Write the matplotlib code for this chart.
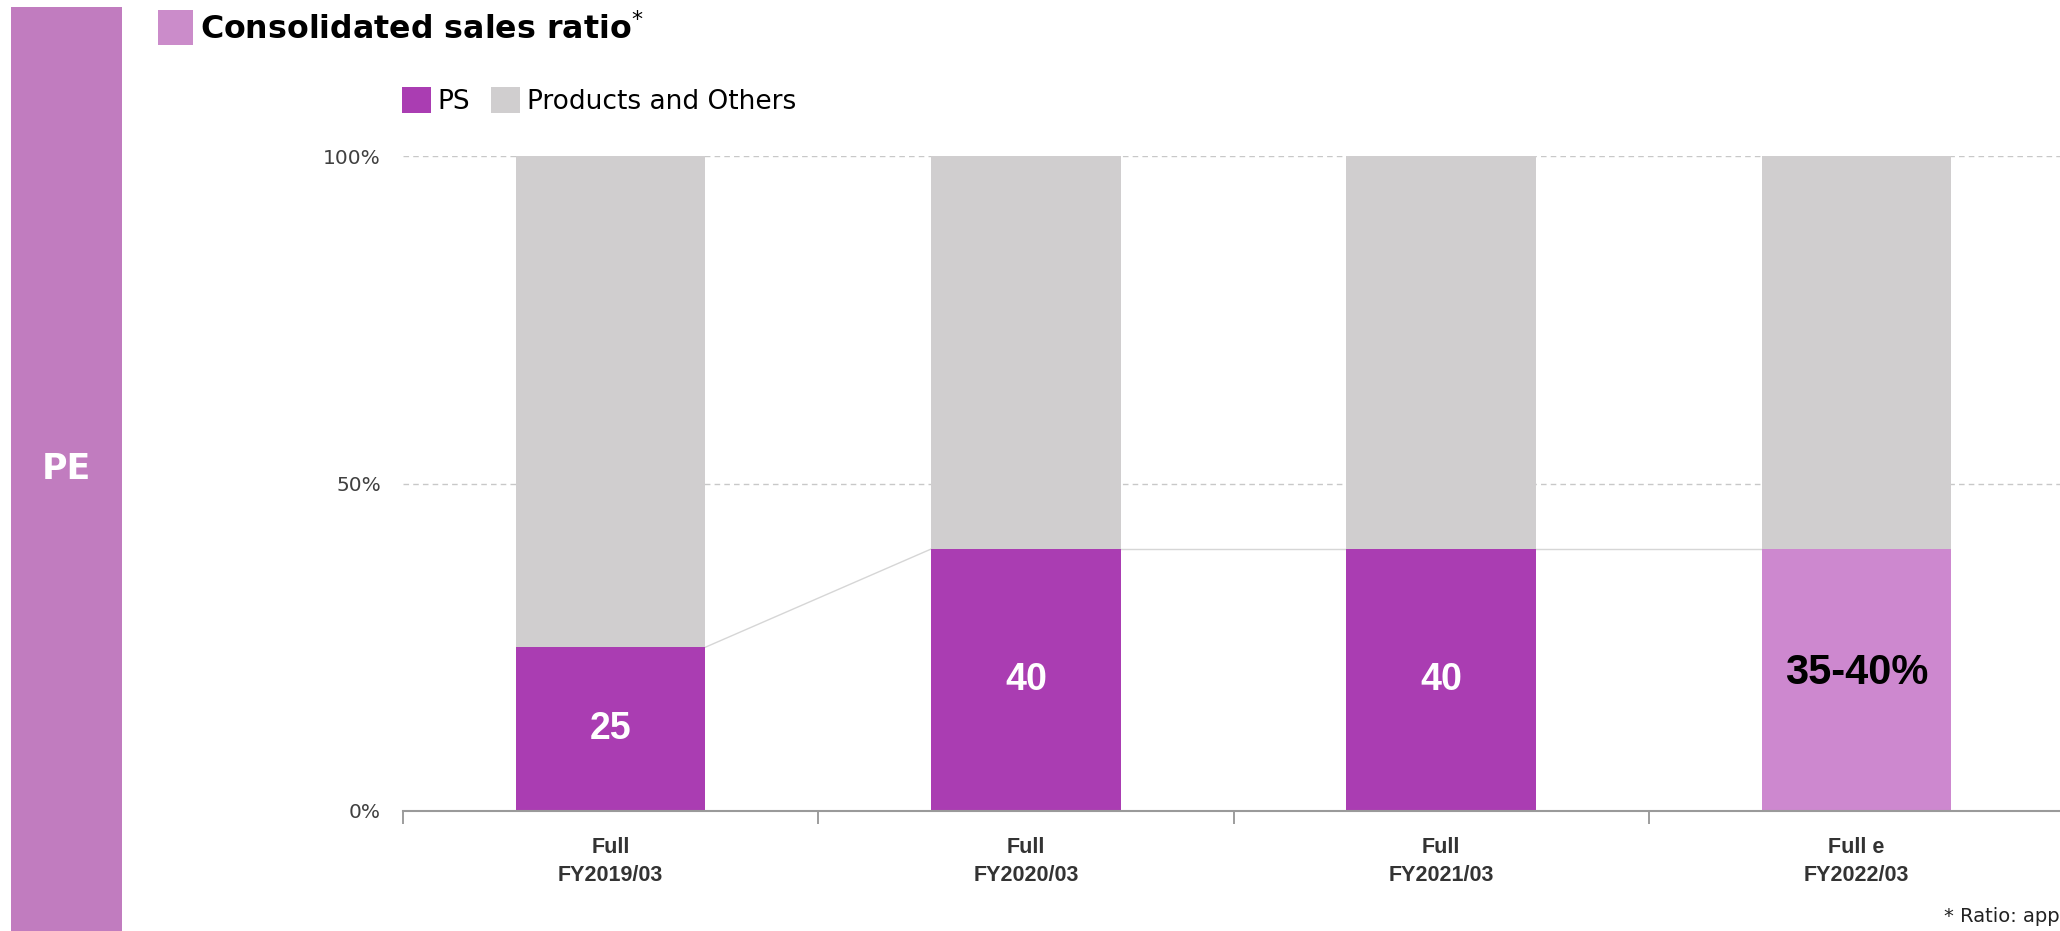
import numpy as np
import matplotlib.pyplot as plt
from matplotlib.patches import Rectangle, Patch

# data
cat_top = ['Full', 'Full', 'Full', 'Full e']
cat_year = ['FY2019/03', 'FY2020/03', 'FY2021/03', 'FY2022/03']
ps_share = [25, 40, 40, 40]
others_share = [75, 60, 60, 60]
bar_text = ['25', '40', '40', '35-40%']

# colours
ps_col = '#AA3DB2'
ps_est_col = '#CD88CF'
grey_col = '#D0CECF'
side_col = '#C17CBF'

W, H = 2060, 931
fig = plt.figure(figsize=(W / 100, H / 100), dpi=100)
fig.patch.set_facecolor('white')

# left side band with "PE"
fig.patches.append(Rectangle((11 / W, 0), 111 / W, 1 - 7 / H, transform=fig.transFigure,
                             facecolor=side_col, edgecolor='none'))
fig.text(66 / W, 1 - 469 / H, 'PE', color='white', fontsize=25, fontweight='bold',
         ha='center', va='center')

# title with little square
fig.patches.append(Rectangle((158 / W, 1 - 45 / H), 35 / W, 35 / H, transform=fig.transFigure,
                             facecolor='#CB8CCA', edgecolor='none'))
fig.text(200 / W, 1 - 30 / H, r'Consolidated sales ratio$^{*}$', fontsize=22.8, fontweight='bold',
         color='black', ha='left', va='center')

# axes
ax = fig.add_axes([403 / W, 1 - 811 / H, (2064 - 403) / W, (811 - 156) / H])
x = np.arange(len(ps_share))
w = 0.456
ps_colors = [ps_col, ps_col, ps_col, ps_est_col]
b1 = ax.bar(x, ps_share, width=w, color=ps_colors, zorder=3)
b2 = ax.bar(x, others_share, bottom=ps_share, width=w, color=grey_col, zorder=3)

# connector lines between PS tops
for i in range(len(x) - 1):
    ax.plot([x[i] + w / 2, x[i + 1] - w / 2], [ps_share[i], ps_share[i + 1]],
            color='#d6d6d6', lw=1, zorder=2)

# labels inside bars
for i in range(len(x)):
    if i < 3:
        ax.text(x[i], ps_share[i] / 2, bar_text[i], color='white', fontsize=27,
                fontweight='bold', ha='center', va='center', family='Liberation Sans', zorder=4)
    else:
        ax.text(x[i], ps_share[i] / 2 + 1, bar_text[i], color='black', fontsize=30,
                fontweight='bold', ha='center', va='center', family='Liberation Sans', zorder=4)

ax.set_xlim(-0.5, 3.5)
ax.set_ylim(0, 100)
ax.set_yticks([0, 50, 100])
ax.set_yticklabels(['0%', '50%', '100%'], fontsize=14.5, color='#404040')
ax.tick_params(axis='y', length=0, pad=16)
ax.yaxis.grid(True, color='#c8c8c8', linestyle=(0, (4, 3)), lw=1)
ax.set_axisbelow(True)

ax.set_xticks(x)
ax.set_xticklabels([a + '\n' + b for a, b in zip(cat_top, cat_year)], fontsize=15.5,
                   fontweight='bold', color='#333333', family='Liberation Sans', linespacing=1.4)
ax.tick_params(axis='x', which='major', length=0, pad=19)
ax.set_xticks([-0.5, 0.5, 1.5, 2.5], minor=True)
ax.tick_params(axis='x', which='minor', length=9, width=1.2, color='#8c8c8c')

for s in ['top', 'right', 'left']:
    ax.spines[s].set_visible(False)
ax.spines['bottom'].set_color('#9a9a9a')
ax.spines['bottom'].set_linewidth(1.5)
ax.spines['bottom'].set_zorder(5)

# legend
handles = [Patch(facecolor=ps_col), Patch(facecolor=grey_col)]
fig.legend(handles, ['PS', 'Products and Others'], loc='center left',
           bbox_to_anchor=(402 / W, 1 - 101 / H), ncol=2, frameon=False, fontsize=19,
           handlelength=1.1, handleheight=1.1, handletextpad=0.25, columnspacing=0.8,
           borderpad=0, borderaxespad=0)

# footnote (runs off the right edge like the source)
fig.text(1944 / W, 1 - 916 / H, '* Ratio: approximate value', fontsize=14, color='#222222',
         ha='left', va='center')

fig.savefig('out.png', dpi=100)
